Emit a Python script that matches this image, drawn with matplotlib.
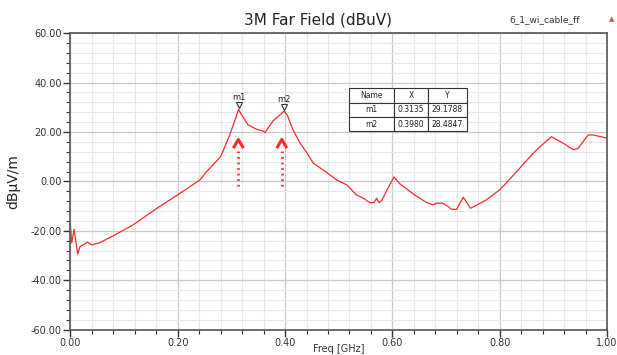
import matplotlib
matplotlib.use("Agg")
import matplotlib.pyplot as plt
from matplotlib.ticker import MultipleLocator, FormatStrFormatter

# trace
freq = [0.000, 0.0026, 0.007, 0.0137, 0.018, 0.032, 0.040, 0.055, 0.080, 0.117,
        0.161, 0.2025, 0.223, 0.2415, 0.254, 0.2726, 0.280, 0.297, 0.3135, 0.317,
        0.331, 0.347, 0.359, 0.3626, 0.378, 0.387, 0.398, 0.404, 0.415, 0.428,
        0.440, 0.4525, 0.475, 0.496, 0.515, 0.533, 0.546, 0.558, 0.5655, 0.5706,
        0.575, 0.580, 0.591, 0.603, 0.614, 0.639, 0.664, 0.676, 0.682, 0.6935,
        0.704, 0.710, 0.7196, 0.732, 0.7456, 0.775, 0.800, 0.819, 0.840, 0.862,
        0.880, 0.896, 0.918, 0.937, 0.946, 0.9646, 0.974, 0.990, 1.000]
level = [-17.6, -24.9, -19.4, -29.4, -26.4, -24.6, -25.7, -24.8, -22.0, -17.6,
         -10.9, -5.1, -2.1, 0.6, 4.0, 8.3, 10.0, 18.8, 29.18, 27.7,
         22.9, 21.1, 20.4, 19.8, 24.6, 26.2, 28.48, 26.9, 20.8, 15.5,
         11.8, 7.4, 4.0, 0.6, -1.4, -5.5, -6.8, -8.6, -8.6, -6.8,
         -8.6, -7.8, -3.0, 1.8, -1.0, -5.1, -8.6, -9.5, -8.8, -8.8,
         -10.2, -11.3, -11.3, -6.4, -10.9, -7.5, -3.4, 1.0, 6.0, 11.4,
         15.0, 18.1, 15.5, 12.8, 13.4, 18.8, 18.8, 18.0, 17.5]

marker_names = ["m1", "m2"]
marker_x = [0.3135, 0.3980]
marker_y = [29.1788, 28.4847]
arrow_x = [0.313, 0.394]

red = "#ff2a2a"

fig = plt.figure(figsize=(6.17, 3.55), dpi=100)
ax = fig.add_axes([0.114, 0.0715, 0.870, 0.835])

ax.plot(freq, level, color=red, lw=0.9)

# markers and their labels
for n, mx, my in zip(marker_names, marker_x, marker_y):
    ax.plot(mx, my + 1.6, marker="v", ms=4.5, mfc="white", mec="#333333", mew=0.8)
    ax.text(mx, my + 3.0, n, fontsize=6, ha="center", va="bottom", color="#222222")

# red dotted arrows under the peaks
for axx in arrow_x:
    ax.plot([axx, axx], [-2.0, 14.0], color=red, lw=2.0, ls=(0, (0.6, 1.4)))
    ax.plot([axx - 0.008, axx, axx + 0.008], [14.0, 17.0, 14.0], color=red, lw=2.2)

ax.set_xlim(0, 1)
ax.set_ylim(-60, 60)
ax.xaxis.set_major_locator(MultipleLocator(0.2))
ax.xaxis.set_minor_locator(MultipleLocator(0.04))
ax.yaxis.set_major_locator(MultipleLocator(20))
ax.yaxis.set_minor_locator(MultipleLocator(4))
ax.xaxis.set_major_formatter(FormatStrFormatter("%.2f"))
ax.yaxis.set_major_formatter(FormatStrFormatter("%.2f"))

ax.grid(which="major", color="#c8c8c8", lw=0.9)
ax.grid(which="minor", color="#e8e8e8", lw=0.8)
ax.set_axisbelow(True)

ax.tick_params(which="major", length=5, width=1, color="#333333",
               labelsize=7, labelcolor="#333333", pad=1)
ax.tick_params(which="minor", length=3, width=0.8, color="#333333")
for s in ax.spines.values():
    s.set_color("#555555")
    s.set_linewidth(1.2)

ax.set_xlabel("Freq [GHz]", fontsize=7, color="#333333", labelpad=0)
ax.xaxis.set_label_coords((339 - 70.3) / 537, -0.05)
ax.set_ylabel("dBµV/m", fontsize=10, color="#222222", labelpad=8)

fig.text(0.516, 0.945, "3M Far Field (dBuV)", fontsize=11, ha="center", va="center",
         color="#222222")
fig.text(0.826, 0.945, "6_1_wi_cable_ff", fontsize=6.5, ha="left", va="center",
         color="#333333")
fig.text(0.992, 0.945, "\u25b2", fontsize=5, ha="center", va="center", color="#d05050")

# marker table
cell = [[n, "%.4f" % mx, "%.4f" % my] for n, mx, my in zip(marker_names, marker_x, marker_y)]
tab_left = (349 - 70.3) / 537
tab_w = (467 - 349) / 537
tab_bottom = (329.6 - 131) / 297
tab_h = (131 - 88) / 297
tbl = ax.table(cellText=cell, colLabels=["Name", "X", "Y"], cellLoc="center",
               colWidths=[45 / 118, 34 / 118, 39 / 118],
               bbox=[tab_left, tab_bottom, tab_w, tab_h])
tbl.set_zorder(5)
tbl.auto_set_font_size(False)
tbl.set_fontsize(5.5)
for c in tbl.get_celld().values():
    c.set_facecolor("white")
    c.set_edgecolor("#333333")
    c.set_linewidth(0.8)
    c.get_text().set_color("#222222")

fig.savefig("out.png", dpi=100)
